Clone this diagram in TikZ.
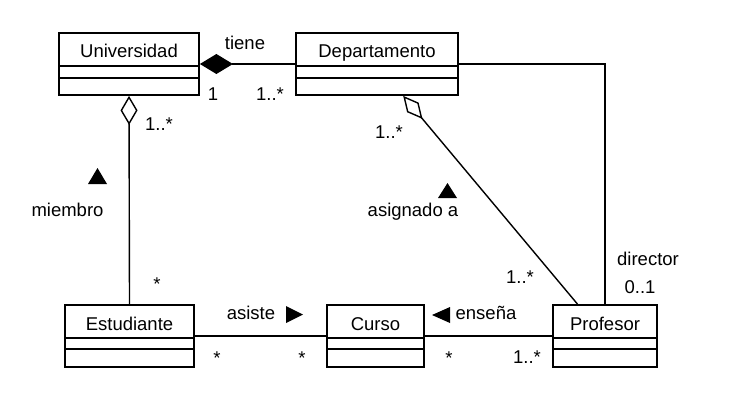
\documentclass[tikz,border=0pt]{standalone}
\usepackage{fontspec}
\setmainfont{Liberation Sans}
\usetikzlibrary{arrows.meta,calc}
\begin{document}
\begin{tikzpicture}[x=1pt,y=-1pt,
  classbox/.style={draw, line width=1.8pt, minimum height=62pt, inner sep=0pt},
  compline/.style={line width=1.8pt},
  conn/.style={line width=1.4pt},
  lbl/.style={font=\fontsize{18.5}{20}\selectfont, inner sep=0pt, text height=13.3pt, text depth=0pt},
  tri/.style={fill=black}]
\useasboundingbox (0,0) rectangle (735,412);
% classes
\node[classbox, minimum width=140pt] (uni) at (129,64) {};
\node[classbox, minimum width=162pt] (dep) at (377,64) {};
\node[classbox, minimum width=129pt] (est) at (129.5,336) {};
\node[classbox, minimum width=97pt] (cur) at (375.5,336) {};
\node[classbox, minimum width=104pt] (pro) at (605,336) {};
% names
\node[lbl] (unin) at ($(uni.north)+(0,19)$) {Universidad};
\node[lbl] (depn) at ($(dep.north)+(0,19)$) {Departamento};
\node[lbl] (estn) at ($(est.north)+(0,20)$) {Estudiante};
\node[lbl] (curn) at ($(cur.north)+(0,20)$) {Curso};
\node[lbl] (pron) at ($(pro.north)+(0,20)$) {Profesor};
% compartments
\foreach \c/\a/\b in {uni/34/46, dep/34/46, est/34/45, cur/34/45, pro/34/45}{
  \draw[compline] ($(\c.north west)+(0,\a)$) -- ($(\c.north east)+(0,\a)$);
  \draw[compline] ($(\c.north west)+(0,\b)$) -- ($(\c.north east)+(0,\b)$);
}
% connectors
\draw[conn, {Diamond[length=33pt,width=20pt,fill=black]}-] (uni.east) -- (dep.west);
\draw[conn, {Diamond[open,length=29pt,width=17pt]}-] (uni.south) -- (est.north);
\draw[conn] (dep.east) -| (pro.north);
\coordinate (dagg) at ($(dep.south west)!0.66!(dep.south east)$);
\coordinate (pagg) at ($(pro.north west)!0.24!(pro.north east)$);
\draw[conn, {Diamond[open,length=30pt,width=15pt]}-] (dagg) -- (pagg);
\draw[conn] (est.east) -- (cur.west);
\draw[conn] (cur.east) -- (pro.west);
% labels
\node[lbl] (l1) at (245,43) {tiene};
\node[lbl] (l2) at (213,94) {1};
\node[lbl] (l3) at (270,94) {1..*};
\node[lbl] (l4) at (159,124) {1..*};
\node[lbl] (l5) at (67.5,210) {miembro};
\node[lbl] (l6) at (157,284) {*};
\node[lbl] (l7) at (389,132) {1..*};
\node[lbl] (l8) at (413,210) {asignado a};
\node[lbl] (l9) at (520,277) {1..*};
\node[lbl] (l10) at (648,259) {director};
\node[lbl] (l11) at (640,287) {0..1};
\node[lbl] (l12) at (251,313) {asiste};
\node[lbl] (l13) at (217,358) {*};
\node[lbl] (l14) at (302,358) {*};
\node[lbl] (l15) at (486,313) {enseña};
\node[lbl] (l16) at (449,358) {*};
\node[lbl] (l17) at (527,357) {1..*};
% direction triangles
\fill[tri] (88,184) -- (97.5,168) -- (107,184) -- cycle;
\fill[tri] (438,198) -- (447.5,183) -- (457,198) -- cycle;
\fill[tri] (286,306) -- (303,314.5) -- (286,323) -- cycle;
\fill[tri] (450,307) -- (432,315) -- (450,323) -- cycle;
\end{tikzpicture}
\end{document}
